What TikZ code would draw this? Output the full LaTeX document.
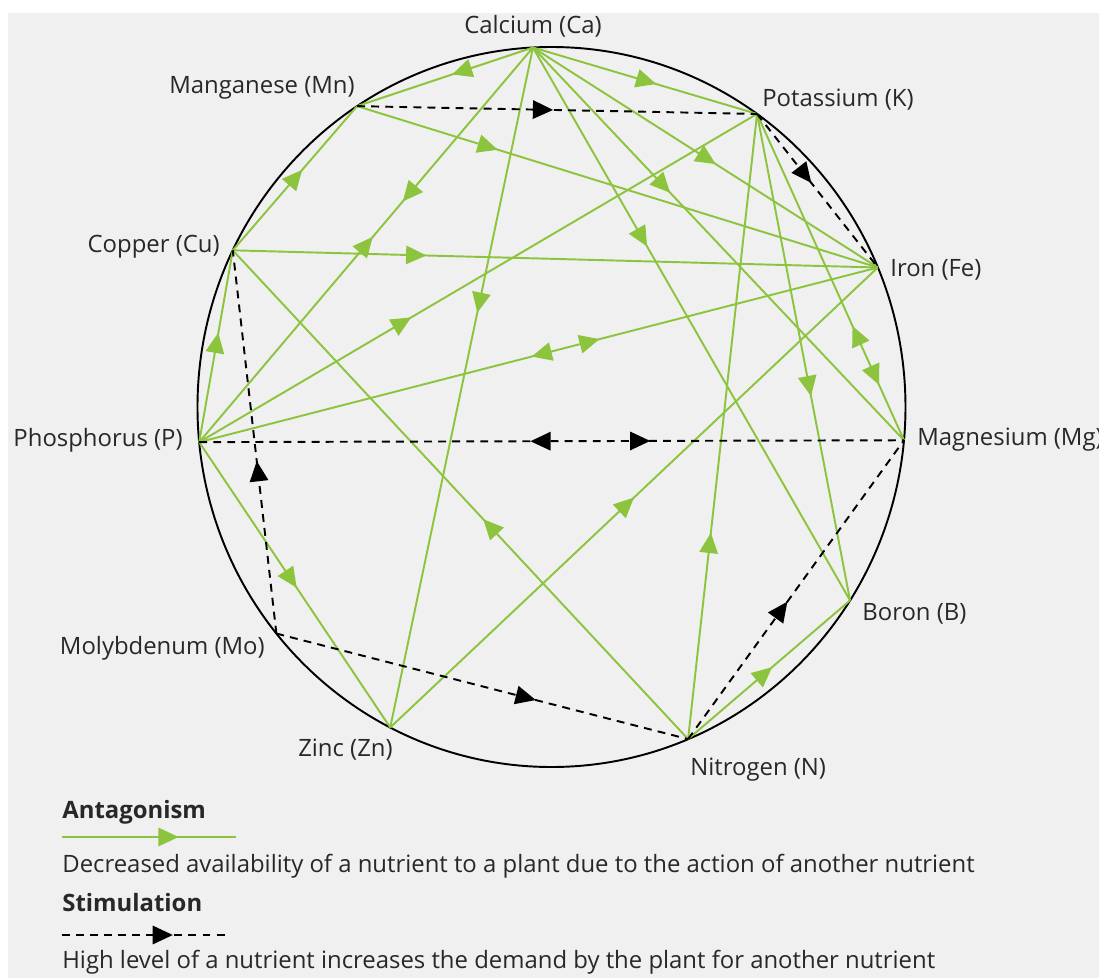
\documentclass[tikz,border=0pt]{standalone}
\usepackage{fontspec}
\setmainfont{Open Sans}
\usetikzlibrary{arrows.meta,decorations.markings}
\definecolor{leaf}{RGB}{140,196,62}
\definecolor{paper}{RGB}{240,240,240}
\definecolor{ink}{RGB}{40,40,40}

\begin{document}
\begin{tikzpicture}[x=0.02cm,y=0.02cm,
    lbl/.style={font=\fontsize{13.6}{16}\selectfont,text=ink,inner sep=0pt},
    antag/.style={leaf,line width=1.1pt},
    stim/.style={black,line width=1.1pt,dash pattern=on 4.5pt off 3.5pt},
    fwd/.style={postaction={decorate,decoration={markings,
        mark=at position #1 with {\arrow{Triangle[length=11.5pt,width=10.5pt]}}}}},
    rev/.style={postaction={decorate,decoration={markings,
        mark=at position #1 with {\arrowreversed{Triangle[length=11.5pt,width=10.5pt]}}}}}]
    \useasboundingbox (-551.5,-571) rectangle (547.5,407);
    \fill[paper] (-543.5,-571) rectangle (547.5,394);
    \draw[line width=1.1pt] (0,0) ellipse (354 and 360);
    % nutrients on the circle
    \coordinate (Ca) at (93:354 and 360);
    \coordinate (Mn) at (123.3:354 and 360);
    \coordinate (K) at (54.5:354 and 360);
    \coordinate (Fe) at (22.8:354 and 360);
    \coordinate (Cu) at (154.2:354 and 360);
    \coordinate (P) at (185.6:354 and 360);
    \coordinate (Mg) at (-5.3:354 and 360);
    \coordinate (B) at (-32.5:354 and 360);
    \coordinate (N) at (-67.3:354 and 360);
    \coordinate (Zn) at (-117.1:354 and 360);
    \coordinate (Mo) at (-141:354 and 360);
    \node[lbl] (CaL) at (-18.5,381) {Calcium (Ca)};
    \node[lbl,anchor=east] (MnL) at (-196.5,319) {Manganese (Mn)};
    \node[lbl,anchor=west] (KL) at (210.5,307) {Potassium (K)};
    \node[lbl,anchor=east] (CuL) at (-331.5,160) {Copper (Cu)};
    \node[lbl,anchor=west] (FeL) at (338.5,137) {Iron (Fe)};
    \node[lbl,anchor=east] (PL) at (-368.5,-33) {Phosphorus (P)};
    \node[lbl,anchor=west] (MgL) at (365.5,-33) {Magnesium (Mg)};
    \node[lbl,anchor=west] (BL) at (310.5,-207) {Boron (B)};
    \node[lbl,anchor=east] (MoL) at (-286.5,-241) {Molybdenum (Mo)};
    \node[lbl,anchor=east] (ZnL) at (-158.5,-343) {Zinc (Zn)};
    \node[lbl,anchor=west] (NL) at (138.5,-363) {Nitrogen (N)};
    % antagonism
    \draw[antag,fwd=0.46] (Ca) -- (Mn);
    \draw[antag,fwd=0.55] (Ca) -- (K);
    \draw[antag,fwd=0.39,rev=0.48] (Ca) -- (P);
    \draw[antag,fwd=0.39] (Ca) -- (Zn);
    \draw[antag,fwd=0.53] (Ca) -- (Fe);
    \draw[antag,fwd=0.37] (Ca) -- (Mg);
    \draw[antag,fwd=0.36] (Ca) -- (B);
    \draw[antag,fwd=0.27] (Mn) -- (Fe);
    \draw[antag,fwd=0.56] (Cu) -- (Mn);
    \draw[antag,fwd=0.3] (Cu) -- (Fe);
    \draw[antag,fwd=0.45] (N) -- (Cu);
    \draw[antag,fwd=0.57] (P) -- (Cu);
    \draw[antag,fwd=0.38] (P) -- (K);
    \draw[antag,rev=0.49,fwd=0.59] (P) -- (Fe);
    \draw[antag,fwd=0.51] (P) -- (Zn);
    \draw[antag,fwd=0.5] (Zn) -- (Fe);
    \draw[antag,rev=0.65,fwd=0.83] (K) -- (Mg);
    \draw[antag,fwd=0.58] (K) -- (B);
    \draw[antag,fwd=0.33] (N) -- (K);
    \draw[antag,fwd=0.52] (N) -- (B);
    % stimulation
    \draw[stim,fwd=0.49] (Mn) -- (K);
    \draw[stim,fwd=0.45] (K) -- (Fe);
    \draw[stim,rev=0.47,fwd=0.64] (P) -- (Mg);
    \draw[stim,fwd=0.45] (Mo) -- (Cu);
    \draw[stim,fwd=0.63] (Mo) -- (N);
    \draw[stim,fwd=0.46] (N) -- (Mg);
    % legend
    \node[lbl,anchor=west,font=\fontsize{13.6}{16}\selectfont\bfseries] (antT) at (-489.5,-405) {Antagonism};
    \coordinate (antA) at (-489.5,-430);
    \coordinate (antB) at (-315.5,-430);
    \draw[antag,fwd=0.67] (antA) -- (antB);
    \node[lbl,anchor=west] (antD) at (-489.5,-459) {Decreased availability of a nutrient to a plant due to the action of another nutrient};
    \node[lbl,anchor=west,font=\fontsize{13.6}{16}\selectfont\bfseries] (stiT) at (-489.5,-496) {Stimulation};
    \coordinate (stiA) at (-489.5,-528);
    \coordinate (stiB) at (-326.5,-528);
    \draw[stim,fwd=0.68] (stiA) -- (stiB);
    \node[lbl,anchor=west] (stiD) at (-489.5,-555) {High level of a nutrient increases the demand by the plant for another nutrient};
\end{tikzpicture}
\end{document}
